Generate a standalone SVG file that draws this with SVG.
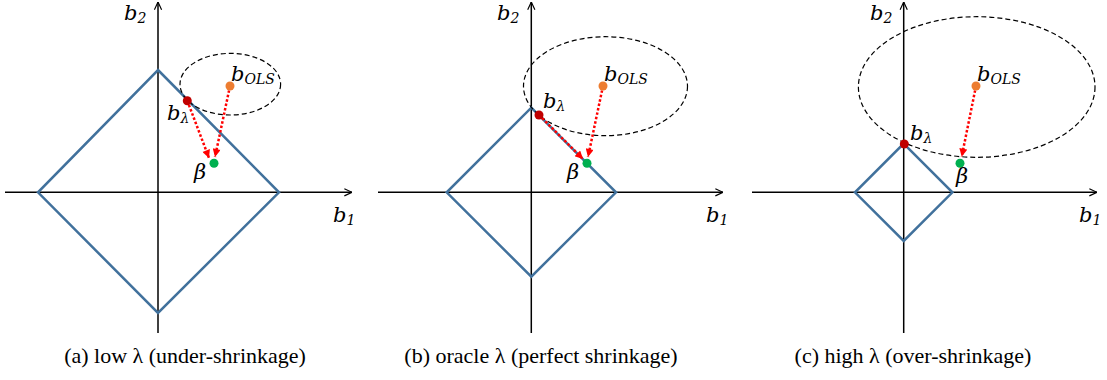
<svg xmlns="http://www.w3.org/2000/svg" width="1107" height="380" viewBox="0 0 1107 380">
<style>
.axis{stroke:#000;stroke-width:1.5;fill:none}
.dia{stroke:#41719C;stroke-width:2.5;fill:none;stroke-linejoin:miter}
.ell{stroke:#000;stroke-width:1.2;fill:none;stroke-dasharray:5 3}
.arr{stroke:#FF0000;stroke-width:2.5;fill:none;stroke-dasharray:2.5 2}
.m{font-family:"DejaVu Serif",serif;font-style:italic;font-size:21px;fill:#000}
.s{font-size:14px}
.cap{font-family:"Liberation Serif","Times New Roman",serif;font-size:22px;fill:#000;text-anchor:middle}
.ols{fill:#ED7D31}.lam{fill:#C00000}.beta{fill:#00B050}
</style>
<defs>
<marker id="ax" markerUnits="userSpaceOnUse" viewBox="0 0 10 10" refX="9.5" refY="5" markerWidth="9" markerHeight="9" orient="auto">
<path d="M1,1 L9.5,5 L1,9" fill="none" stroke="#000" stroke-width="1.3"/>
</marker>
<marker id="ra" markerUnits="userSpaceOnUse" viewBox="0 0 10 10" refX="10" refY="5" markerWidth="9" markerHeight="8" orient="auto">
<path d="M0,0 L10,5 L0,10 Z" fill="#FF0000"/>
</marker>
</defs>
<rect width="1107" height="380" fill="#fff"/>

<!-- Panel (a) -->
<g id="panel-a">
<g id="a-axes">
<line class="axis" x1="5" y1="192.3" x2="352" y2="192.3" marker-end="url(#ax)"/>
<line class="axis" x1="158" y1="333" x2="158" y2="2" marker-end="url(#ax)"/>
</g>
<polygon id="a-diamond" class="dia" points="158,70 279,192.3 158,313 38,192.3"/>
<ellipse id="a-ellipse" class="ell" cx="230.3" cy="84.2" rx="50.3" ry="30.8"/>
<g id="a-connectors">
<line class="arr" x1="187.3" y1="100.7" x2="209" y2="158" marker-end="url(#ra)"/>
<line class="arr" x1="230" y1="86" x2="215" y2="157" marker-end="url(#ra)"/>
</g>
<g id="a-bols"><circle class="ols" cx="230" cy="86" r="4.5"/><text class="m" x="231" y="81">b<tspan class="s" dy="3">OLS</tspan></text></g>
<g id="a-blam"><circle class="lam" cx="187.3" cy="100.7" r="4.5"/><text class="m" x="167" y="120">b<tspan class="s" dy="3">λ</tspan></text></g>
<g id="a-beta"><circle class="beta" cx="214" cy="163.3" r="4.5"/><text class="m" x="194" y="179">β</text></g>
<text class="m" x="124" y="20">b<tspan class="s" dy="3">2</tspan></text>
<text class="m" x="333" y="222">b<tspan class="s" dy="3">1</tspan></text>
<text class="cap" x="185" y="363">(a) low λ (under-shrinkage)</text>
</g>

<!-- Panel (b) -->
<g id="panel-b">
<g id="b-axes">
<line class="axis" x1="378" y1="192.3" x2="723" y2="192.3" marker-end="url(#ax)"/>
<line class="axis" x1="531.3" y1="333" x2="531.3" y2="2" marker-end="url(#ax)"/>
</g>
<polygon id="b-diamond" class="dia" points="531.3,107.7 616,192.3 531.3,276.7 446.7,192.3"/>
<ellipse id="b-ellipse" class="ell" cx="605.5" cy="86.2" rx="82" ry="49.5"/>
<g id="b-connectors">
<line class="arr" x1="539" y1="115" x2="583" y2="159" marker-end="url(#ra)"/>
<line class="arr" x1="603" y1="86" x2="588" y2="157" marker-end="url(#ra)"/>
</g>
<g id="b-bols"><circle class="ols" cx="603" cy="86" r="4.5"/><text class="m" x="604" y="81">b<tspan class="s" dy="3">OLS</tspan></text></g>
<g id="b-blam"><circle class="lam" cx="539" cy="115" r="4.5"/><text class="m" x="543" y="108">b<tspan class="s" dy="3">λ</tspan></text></g>
<g id="b-beta"><circle class="beta" cx="587" cy="163.3" r="4.5"/><text class="m" x="567" y="179">β</text></g>
<text class="m" x="497" y="20">b<tspan class="s" dy="3">2</tspan></text>
<text class="m" x="706" y="222">b<tspan class="s" dy="3">1</tspan></text>
<text class="cap" x="541" y="363">(b) oracle λ (perfect shrinkage)</text>
</g>

<!-- Panel (c) -->
<g id="panel-c">
<g id="c-axes">
<line class="axis" x1="752" y1="192.3" x2="1097" y2="192.3" marker-end="url(#ax)"/>
<line class="axis" x1="903.7" y1="333" x2="903.7" y2="2" marker-end="url(#ax)"/>
</g>
<polygon id="c-diamond" class="dia" points="903.7,143.6 952.4,192.3 903.7,241 855,192.3"/>
<ellipse id="c-ellipse" class="ell" cx="976.7" cy="87" rx="118.3" ry="70.3"/>
<g id="c-connectors">
<line class="arr" x1="976" y1="86" x2="961.7" y2="156.7" marker-end="url(#ra)"/>
</g>
<g id="c-bols"><circle class="ols" cx="976" cy="86" r="4.5"/><text class="m" x="977" y="81">b<tspan class="s" dy="3">OLS</tspan></text></g>
<g id="c-blam"><circle class="lam" cx="904.3" cy="144" r="4.5"/><text class="m" x="910" y="140">b<tspan class="s" dy="3">λ</tspan></text></g>
<g id="c-beta"><circle class="beta" cx="960" cy="163.3" r="4.5"/><text class="m" x="956" y="183">β</text></g>
<text class="m" x="870" y="20">b<tspan class="s" dy="3">2</tspan></text>
<text class="m" x="1079" y="222">b<tspan class="s" dy="3">1</tspan></text>
<text class="cap" x="913" y="363">(c) high λ (over-shrinkage)</text>
</g>
</svg>
